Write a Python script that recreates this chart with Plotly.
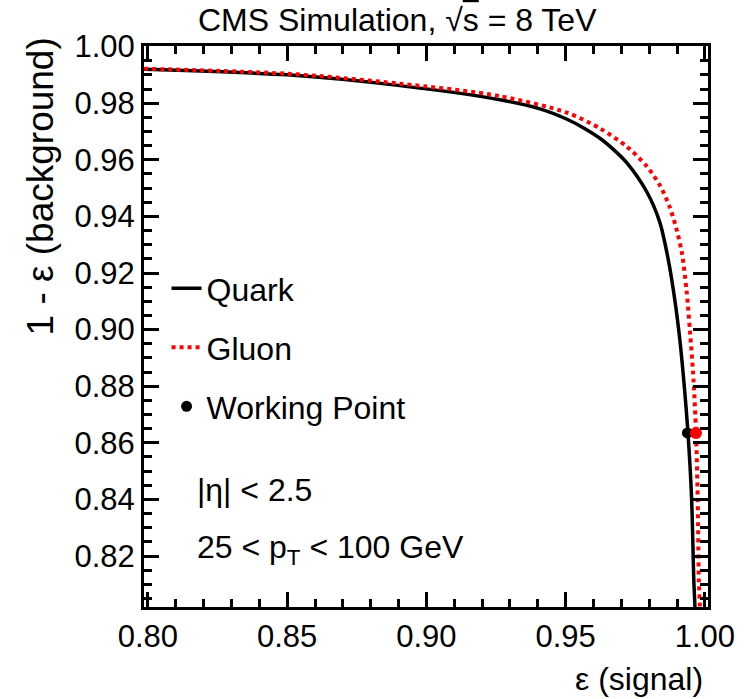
import plotly.graph_objects as go

# ROC curves: signal efficiency vs background rejection (1 - background efficiency)
quark_eff = [0.790, 0.850, 0.8905, 0.9264, 0.9408, 0.9503, 0.9569, 0.9623,
             0.9673, 0.9719, 0.9791, 0.9838, 0.9868, 0.9892, 0.9910, 0.99239, 0.9939,
             0.9952, 0.9960, 0.9964, 0.9966]
quark_rej = [0.9922, 0.9900, 0.9862, 0.9812, 0.9780, 0.9744, 0.9710, 0.9676,
             0.9635, 0.9590, 0.9487, 0.9379, 0.9249, 0.9104, 0.8963, 0.8822, 0.8635,
             0.8406, 0.8116, 0.8021, 0.7900]

gluon_eff = [0.790, 0.850, 0.8905, 0.9264, 0.9503, 0.9623, 0.9719, 0.9791, 0.9838,
             0.9874, 0.9899, 0.9917, 0.9934, 0.9946, 0.9959, 0.9968, 0.9974, 0.9978,
             0.9982, 0.9986]
gluon_rej = [0.9924, 0.9904, 0.9869, 0.9825, 0.9767, 0.9711, 0.9647, 0.9577, 0.9510,
             0.9432, 0.9351, 0.9273, 0.9139, 0.8998, 0.8822, 0.8635, 0.8406, 0.8116,
             0.8021, 0.7900]

# Working points (signal efficiency, background rejection)
wp_quark = (0.9937, 0.8635)
wp_gluon = (0.9968, 0.8635)

FONT = "Liberation Sans, Arial, Helvetica, sans-serif"

fig = go.Figure()
fig.add_trace(go.Scatter(x=quark_eff, y=quark_rej, mode="lines", name="Quark",
                         legendgroup="q",
                         line=dict(color="black", width=3.5, shape="spline", smoothing=0.8)))
fig.add_trace(go.Scatter(x=gluon_eff, y=gluon_rej, mode="lines", name="Gluon",
                         legendgroup="g",
                         line=dict(color="#ff0000", width=4, dash="4px,4px",
                                   shape="spline", smoothing=0.8)))
fig.add_trace(go.Scatter(x=[wp_quark[0]], y=[wp_quark[1]], mode="markers",
                         name="Working Point", legendgroup="w",
                         marker=dict(color="black", size=11)))
fig.add_trace(go.Scatter(x=[wp_gluon[0]], y=[wp_gluon[1]], mode="markers",
                         showlegend=False, marker=dict(color="#ff0000", size=12)))

axis_common = dict(
    showline=True, linewidth=3, linecolor="black", mirror="allticks",
    ticks="inside", ticklen=15, tickwidth=2.5, tickcolor="black",
    showgrid=False, zeroline=False, tickformat=".2f",
    tickfont=dict(family=FONT, size=31, color="black"),
)

fig.update_xaxes(range=[0.7986, 1.0011], tick0=0.80, dtick=0.05,
                 minor=dict(ticks="inside", ticklen=8, tickwidth=2.5, tickcolor="black",
                            dtick=0.01, tick0=0.80, showgrid=False),
                 **axis_common)
fig.update_yaxes(range=[0.802, 1.0002], tick0=0.80, dtick=0.02,
                 minor=dict(ticks="inside", ticklen=8, tickwidth=2.5, tickcolor="black",
                            dtick=0.005, tick0=0.80, showgrid=False),
                 **axis_common)

fig.update_layout(
    width=755, height=699,
    margin=dict(l=144, r=47, t=46, b=92),
    paper_bgcolor="white", plot_bgcolor="white",
    font=dict(family=FONT, color="black"),
    showlegend=True,
    legend=dict(x=0.04, y=0.617, xanchor="left", yanchor="top",
                bgcolor="rgba(0,0,0,0)", borderwidth=0,
                font=dict(family=FONT, size=32, color="black"),
                tracegroupgap=14.5, traceorder="grouped"),
    annotations=[
        dict(text="CMS Simulation, √<span style='text-decoration:overline'>s</span> = 8 TeV",
             xref="paper", yref="paper",
             x=0.092, y=1.0463, xanchor="left", yanchor="middle",
             showarrow=False, font=dict(family=FONT, size=32)),
        dict(text="1 - ε (background)", xref="paper", yref="paper",
             x=0, xshift=-104, y=0.7496, xanchor="center", yanchor="middle",
             textangle=-90, showarrow=False, font=dict(family=FONT, size=37)),
        dict(text="ε (signal)", xref="paper", yref="paper",
             x=1, xshift=-3, y=0, yshift=-52, xanchor="right", yanchor="top",
             showarrow=False, font=dict(family=FONT, size=32)),
        dict(text="|η| < 2.5", xref="paper", yref="paper",
             x=0.091, y=0.2086, xanchor="left", yanchor="middle",
             showarrow=False, font=dict(family=FONT, size=32)),
        dict(text="25 < p<sub>T</sub> < 100 GeV", xref="paper", yref="paper",
             x=0.091, y=0.102, xanchor="left", yanchor="middle",
             showarrow=False, font=dict(family=FONT, size=32)),
    ],
)

fig.write_html("out.html")
